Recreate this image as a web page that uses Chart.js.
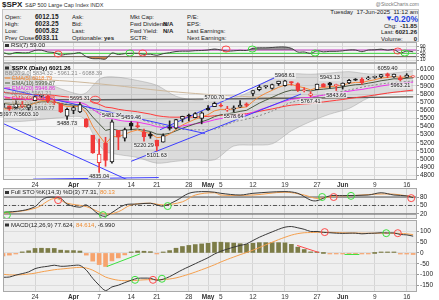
<!DOCTYPE html>
<html>
<head>
<meta charset="utf-8">
<title>$SPX</title>
<script src="https://cdn.jsdelivr.net/npm/chart.js@4.4.1/dist/chart.umd.min.js"></script>
<style>
  html, body { margin: 0; padding: 0; background: #fff; }
  body { width: 439px; height: 300px; position: relative; overflow: hidden;
         font-family: "Liberation Sans", Arial, sans-serif; color: #222; }
  .t { position: absolute; white-space: nowrap; line-height: 1; font-size: 6px; }
  .b { font-weight: bold; }
  .v { font-weight: bold; font-size: 6.5px; }
  #box { position: absolute; left: 2px; top: 9px; width: 417px; height: 33px;
         box-sizing: border-box; border: 1px solid #c4c4c4; background: #efefef; }
  canvas { position: absolute; left: 0; }
</style>
</head>
<body>
<div id="box"></div>
<div class="t b" style="left:2px;top:1px;font-size:8px">$SPX</div>
<div class="t" style="left:25px;top:2.5px;font-size:5.5px;color:#333">S&amp;P 500 Large Cap Index INDX</div>
<div class="t" style="right:20px;top:2px;font-size:5px;color:#777">@StockCharts.com</div>

<div class="t" style="left:5px;top:14px">Open:</div>
<div class="t" style="left:5px;top:21px">High:</div>
<div class="t" style="left:5px;top:28px">Low:</div>
<div class="t" style="left:5px;top:35px">Prev Close:</div>
<div class="t v" style="left:35px;top:13.7px">6012.15</div>
<div class="t v" style="left:35px;top:20.7px">6023.25</div>
<div class="t v" style="left:35px;top:27.7px">6005.82</div>
<div class="t v" style="left:35px;top:34.7px">6033.11</div>

<div class="t" style="left:72px;top:14px">Ask:</div>
<div class="t" style="left:72px;top:21px">Bid:</div>
<div class="t" style="left:72px;top:28px">Last:</div>
<div class="t" style="left:72px;top:35px">Optionable:</div>
<div class="t b" style="left:104px;top:35px">yes</div>

<div class="t" style="left:130px;top:14px">Mkt Cap:</div>
<div class="t" style="left:130px;top:21px">Fwd Dividend:</div>
<div class="t" style="left:130px;top:28px">Fwd Yield:</div>
<div class="t" style="left:130px;top:35px">SCTR:</div>
<div class="t b" style="left:163px;top:21px">N/A</div>
<div class="t b" style="left:163px;top:28px">N/A</div>

<div class="t" style="left:187px;top:14px">P/E:</div>
<div class="t" style="left:187px;top:21px">EPS:</div>
<div class="t" style="left:187px;top:28px">Last Earnings:</div>
<div class="t" style="left:187px;top:35px">Next Earnings:</div>

<div class="t" style="right:21px;top:9px">Tuesday&nbsp; 17-Jun-2025&nbsp; 11:12 am</div>
<div class="t b" style="left:385px;top:14.5px;font-size:8px;color:#1f3fe0">&#9660;</div>
<div class="t b" style="right:21px;top:14.5px;font-size:8.5px;color:#1f3fe0">-0.20%</div>
<div class="t" style="left:384px;top:22.5px">Chg:</div>
<div class="t b" style="right:22px;top:22.5px">-11.85</div>
<div class="t" style="left:381px;top:29px">Last:</div>
<div class="t b" style="right:22px;top:29px">6021.26</div>
<div class="t" style="left:381px;top:35.5px">Volume:</div>
<div class="t b" style="right:22px;top:35.5px">0</div>

<canvas id="rsiChart" width="439" height="21" style="top:42px"></canvas>
<canvas id="priceChart" width="439" height="125" style="top:63px"></canvas>
<canvas id="stoChart" width="439" height="31" style="top:188px"></canvas>
<canvas id="macdChart" width="439" height="80" style="top:220px"></canvas>

<script>
// ---- sessions: first bar is Mon 17-Mar-2025, Mon 24-Mar is day 0 ----
var FIRST = -5;
var X_MIN = -5, X_MAX = 59.6;

var tickDays   = [0, 6, 10, 15, 19, 24, 27, 29, 34, 39, 44, 48, 53, 58];
var tickLabels = ['24', 'Apr', '7', '14', '21', '28', 'May', '5', '12', '19', '27', 'Jun', '9', '16'];
var monthTicks = ['Apr', 'May', 'Jun'];

// ---- daily candles 17-Mar .. 17-Jun ----
var priorClose = 5638.94;
var opens = [5635.60, 5654.53, 5632.37, 5646.92, 5630.73,
             5718.08, 5775.96, 5771.66, 5695.64, 5679.12,
             5527.91, 5597.53, 5580.76, 5492.74, 5292.14,
             4953.79, 5193.57, 4965.28, 5353.15, 5255.56,
             5441.96, 5411.99, 5335.75, 5305.45,
             5232.94, 5207.67, 5395.92, 5381.38, 5489.73,
             5529.22, 5508.87, 5499.44, 5625.14, 5645.94,
             5655.32, 5605.88, 5613.40, 5640.00, 5679.92,
             5807.00, 5854.26, 5891.00, 5869.00, 5929.10,
             5902.88, 5944.66, 5928.37, 5841.26, 5781.89,
             5854.07, 5925.54, 5939.10, 5903.67,
             5896.68, 5938.56, 5978.94, 5985.67, 5987.06,
             6004.60, 6009.91, 6049.38, 6009.90, 6000.56,
             6004.00, 6012.15];
var highs = [5703.52, 5654.53, 5715.33, 5711.15, 5670.84,
             5775.14, 5786.95, 5783.62, 5732.28, 5685.89,
             5627.56, 5650.57, 5695.31, 5499.53, 5292.14,
             5246.43, 5267.47, 5481.34, 5353.15, 5381.46,
             5459.46, 5450.41, 5367.24, 5328.31,
             5232.94, 5309.60, 5469.69, 5489.40, 5528.11,
             5553.66, 5571.95, 5581.84, 5658.91, 5700.70,
             5683.33, 5649.42, 5654.60, 5720.10, 5691.68,
             5844.19, 5906.63, 5906.71, 5924.27, 5958.62,
             5968.61, 5953.06, 5938.37, 5878.08, 5829.51,
             5924.33, 5929.00, 5943.13, 5922.14,
             5937.40, 5981.36, 5990.48, 5999.70, 6016.87,
             6021.31, 6043.01, 6059.40, 6045.43, 6026.16,
             6050.83, 6023.25];
var lows = [5631.12, 5597.76, 5622.20, 5632.70, 5603.10,
            5718.08, 5760.00, 5694.41, 5670.94, 5572.42,
            5488.73, 5558.52, 5571.48, 5390.83, 5069.90,
            4835.04, 4910.42, 4948.43, 5115.27, 5220.77,
            5358.02, 5386.44, 5220.29, 5255.58,
            5101.63, 5207.67, 5356.18, 5371.96, 5455.86,
            5468.64, 5505.70, 5433.24, 5597.35, 5644.77,
            5640.72, 5586.67, 5578.64, 5635.00, 5644.00,
            5775.61, 5839.59, 5872.38, 5861.00, 5906.00,
            5895.69, 5909.26, 5830.91, 5825.82, 5767.41,
            5854.07, 5886.81, 5873.80, 5843.66,
            5861.43, 5929.00, 5966.11, 5921.20, 5978.63,
            5994.18, 6000.26, 6002.32, 6003.88, 5963.21,
            6004.00, 6005.82];
var closes = [5675.12, 5614.66, 5675.29, 5662.89, 5667.56,
              5767.57, 5776.65, 5712.20, 5693.31, 5580.94,
              5611.85, 5633.07, 5670.97, 5396.52, 5074.08,
              5062.25, 4982.77, 5456.90, 5268.05, 5363.36,
              5405.97, 5396.63, 5275.70, 5282.70,
              5158.20, 5287.76, 5375.86, 5484.77, 5525.21,
              5528.75, 5560.83, 5569.06, 5604.14, 5686.67,
              5650.38, 5606.91, 5631.28, 5663.94, 5659.91,
              5844.19, 5886.55, 5892.58, 5916.93, 5958.38,
              5963.60, 5940.46, 5844.61, 5842.01, 5802.82,
              5921.54, 5888.55, 5912.17, 5911.69,
              5935.94, 5970.37, 5970.81, 5939.30, 6000.36,
              6005.88, 6038.81, 6022.24, 6045.26, 5976.97,
              6033.11, 6021.26];

// ---- price overlays ----
var ema5 = [5618, 5617, 5636, 5645, 5653, 5691, 5720, 5717, 5709, 5666, 5648, 5643, 5652, 5567, 5403,
            5289, 5187, 5277, 5274, 5304, 5338, 5358, 5331, 5315, 5263, 5271, 5306, 5366, 5419, 5456,
            5491, 5517, 5546, 5593, 5612, 5610, 5617, 5633, 5642, 5709, 5768, 5810, 5846, 5883, 5910,
            5920, 5895, 5877, 5852, 5875, 5880, 5891, 5898, 5911, 5931, 5944, 5942, 5961, 5976, 5997,
            6005, 6018, 6004, 6014, 6016];
var ema10 = [5687, 5674, 5674, 5672, 5671, 5689, 5705, 5706, 5704, 5682, 5669, 5663, 5664, 5615, 5517,
             5434, 5352, 5371, 5352, 5354, 5363, 5369, 5352, 5339, 5306, 5303, 5316, 5347, 5379, 5406,
             5434, 5459, 5485, 5522, 5545, 5556, 5570, 5587, 5600, 5644, 5688, 5725, 5760, 5796, 5827,
             5848, 5847, 5846, 5838, 5853, 5860, 5869, 5877, 5888, 5903, 5915, 5919, 5934, 5947, 5964,
             5975, 5988, 5986, 5995, 6000];
var ema20 = [5770, 5755, 5747, 5739, 5732, 5735, 5739, 5736, 5732, 5718, 5708, 5701, 5698, 5669, 5612,
             5560, 5505, 5500, 5478, 5467, 5461, 5455, 5438, 5423, 5398, 5388, 5387, 5396, 5408, 5420,
             5433, 5446, 5461, 5483, 5499, 5509, 5521, 5535, 5547, 5575, 5605, 5632, 5659, 5687, 5713,
             5735, 5745, 5754, 5759, 5775, 5786, 5798, 5809, 5821, 5835, 5848, 5857, 5871, 5884, 5899,
             5911, 5924, 5929, 5939, 5947];
var ema40 = [5822, 5813, 5807, 5801, 5795, 5794, 5793, 5789, 5784, 5773, 5765, 5758, 5753, 5736, 5704,
             5673, 5639, 5630, 5612, 5600, 5591, 5581, 5567, 5553, 5534, 5523, 5516, 5515, 5516, 5516,
             5518, 5521, 5525, 5533, 5539, 5542, 5546, 5552, 5558, 5571, 5587, 5602, 5617, 5634, 5650,
             5663, 5670, 5677, 5682, 5694, 5703, 5713, 5723, 5733, 5745, 5756, 5765, 5776, 5788, 5800,
             5811, 5822, 5830, 5840, 5849];

var bbDays  = [-5, -2, 1, 4, 7, 8, 9, 10, 11, 13, 16, 19, 22, 25, 28, 31, 34, 37, 40, 43, 46, 49, 52, 55, 59];
var bbUpper = [6213, 6064, 5967, 5865, 5796, 5817, 5902, 5980, 6010, 6007, 5967, 5908, 5773, 5728, 5745,
               5752, 5848, 5995, 6048, 6044, 6059, 6076, 6048, 6053, 6088];
var bbMid   = [5836, 5764, 5727, 5688, 5660, 5643, 5608, 5580, 5551, 5531, 5493, 5428, 5373, 5360, 5368,
               5456, 5510, 5591, 5698, 5753, 5806, 5850, 5900, 5934, 5961];
var bbLower = [5458, 5464, 5487, 5510, 5524, 5469, 5314, 5180, 5092, 5055, 5019, 4949, 4973, 4991, 4990,
               5160, 5172, 5187, 5347, 5462, 5553, 5623, 5752, 5815, 5834];

var ma100Days = [-5, 5, 12, 20, 30, 40, 50, 59];
var ma100     = [6000, 5960, 5910, 5840, 5780, 5750, 5755, 5771];
var ma200Days = [-5, 10, 25, 40, 59];
var ma200     = [5735, 5730, 5738, 5748, 5765];

// hand drawn trend lines: [day, price] end points
var trendLines = [
  [[-5, 5875], [26.5, 5314]],
  [[-5.5, 5456], [14.4, 4745]],
  [[-0.3, 4752], [19.3, 4772]],
  [[15, 4972], [41.5, 5800]],
  [[19.5, 5360], [38.5, 6040]]
];

// annotated highs / lows: [day, 'H' | 'L']
var priceNotes = [[-4, 'L'], [-1, 'L'], [5, 'L'], [7, 'H'], [10, 'L'], [12, 'H'], [15, 'H'], [17, 'L'],
                  [19, 'L'], [28, 'H'], [31, 'L'], [39, 'H'], [43, 'L'], [46, 'H'], [47, 'L'], [55, 'H'], [57, 'L']];
var priceRings = [[9.4, 5730, 'r']];

// ---- RSI(7) ----
var rsi7 = [55, 45, 55, 53, 54, 68, 69, 58, 55, 40, 45, 48, 54, 30, 18, 18, 16, 52, 43, 48, 50, 50, 44, 45,
            38, 48, 54, 61, 63, 63, 66, 67, 70, 76, 70, 63, 65, 68, 67, 80, 83, 83, 85, 88, 88, 80, 58, 58,
            50, 65, 59, 62, 62, 65, 70, 70, 60, 70, 71, 75, 69, 73, 52, 64, 59];
var rsiLevels = [30, 50, 70];
var rsiRings = [[3.6, 46, 'r'], [14.8, 52, 'g'], [16.8, 52, 'r'], [29.8, 76, 'r'], [33.9, 76, 'g'],
                [43.7, 52, 'g'], [56.6, 64, 'r'], [57.7, 52, 'g']];

// ---- Full STO %K(14,3) %D(3) ----
var stoKDays = [-5, -2, 0, 1, 2, 4, 5, 7, 8, 10, 11, 12, 14, 16, 18, 19, 20, 22, 24, 26, 28, 29, 32, 34,
                39, 41, 43, 44, 46, 48, 52, 54, 56, 58, 59];
var stoK = [26, 32, 46, 68, 79, 75, 55, 44, 52, 18, 12, 25, 52, 55, 58, 52, 48, 67, 93, 99, 97, 93, 87, 93,
            99, 93, 69, 67, 84, 85, 87, 95, 87, 84, 77.31];
var stoDDays = [-5, 0, 3, 5, 8, 11, 13, 15, 18, 20, 23, 25, 28, 29, 34, 39, 42, 44, 47, 49, 53, 56, 58, 59];
var stoD = [22, 40, 75, 58, 46, 20, 28, 52, 58, 52, 63, 87, 95, 87, 87, 97, 87, 75, 84, 84, 90, 90, 84, 80.13];
var stoLevels = [20, 50, 80];
var stoRings = [[-4.4, 16, 'g'], [3.6, 69, 'r'], [10.6, 16, 'g'], [20.7, 48, 'g'], [44.8, 80, 'g'],
                [46.6, 80, 'r'], [49.3, 84, 'g'], [58.7, 76, 'r']];

// ---- MACD(12,26,9) ----
var macd = [-113, -112, -103, -96, -88, -73, -66, -62, -57, -62, -61, -58, -58, -80, -118, -150, -175, -158,
            -150, -138, -127, -118, -117, -118, -127, -122, -110, -94, -78, -64, -50, -36, -22, -5, 8, 18,
            27, 35, 42, 58, 73, 86, 98, 110, 120, 123, 117, 110, 100, 100, 96, 94, 92, 91, 92, 92, 89, 91,
            92, 94, 93, 93, 86, 84, 78];
var signal = [-99, -102, -102, -101, -98, -94, -88, -83, -78, -75, -72, -69, -67, -70, -80, -96, -112, -121,
              -127, -129, -129, -127, -125, -124, -124, -124, -121, -116, -108, -99, -89, -78, -67, -55, -42,
              -30, -19, -8, 2, 13, 25, 38, 50, 62, 73, 83, 90, 94, 95, 96, 96, 96, 95, 94, 93, 93, 92, 92, 92,
              92, 92, 92, 91, 89, 85];
var hist = [-14, -10, -1, 5, 10, 21, 22, 21, 21, 13, 11, 11, 9, -10, -38, -54, -63, -37, -23, -9, 2, 9, 8, 6,
            -3, 2, 11, 22, 30, 35, 39, 42, 45, 50, 50, 48, 46, 43, 40, 45, 48, 48, 48, 48, 47, 40, 27, 16, 5,
            4, 0, -2, -3, -3, -1, -1, -3, -1, 0, 2, 1, 1, -5, -5, -7];
var macdRings = [[15.6, -125, 'g'], [18.4, -125, 'r'], [19.8, -120, 'g'], [45.2, 97, 'r'],
                 [54.8, 92, 'g'], [56.6, 92, 'r']];
var macdMarks = [[[11.2, -63], [16.4, -4], 'g'], [[40.9, 35], [44.3, 2], 'r'], [[48.3, -7], [50.6, -7], 'g']];

// ------------------------------------------------------------------
Chart.defaults.font.family = '"Liberation Sans", Arial, sans-serif';
var FONT = '"Liberation Sans", Arial, sans-serif';
var RING = { r: '#ff4a4a', g: '#3ee03e' };

function byDay(arr) { return arr.map(function (v, k) { return { x: k + FIRST, y: v }; }); }
function zip(days, vals) { return days.map(function (d, k) { return { x: d, y: vals[k] }; }); }
function seg(p) { return [{ x: p[0][0], y: p[0][1] }, { x: p[1][0], y: p[1][1] }]; }
function level(v) { return [{ x: X_MIN, y: v }, { x: X_MAX, y: v }]; }

function line(data, color, width, extra) {
  var ds = { type: 'line', data: data, borderColor: color, borderWidth: width || 1,
             pointRadius: 0, fill: false, tension: 0, order: 10 };
  for (var key in extra) ds[key] = extra[key];
  return ds;
}

var panelBg = {
  id: 'panelBg',
  beforeDraw: function (chart, args, opts) {
    var a = chart.chartArea, c = chart.ctx;
    c.save();
    c.fillStyle = opts.color || '#efefef';
    c.fillRect(a.left, a.top, a.right - a.left, a.bottom - a.top);
    c.restore();
  },
  afterDraw: function (chart) {
    var a = chart.chartArea, c = chart.ctx;
    c.save();
    c.strokeStyle = '#a9a9a9';
    c.lineWidth = 1;
    c.strokeRect(a.left + 0.5, a.top + 0.5, a.right - a.left - 1, a.bottom - a.top - 1);
    c.restore();
  }
};
Chart.register(panelBg);

function xAxis(showLabels) {
  return {
    type: 'linear', min: X_MIN, max: X_MAX, offset: false,
    afterBuildTicks: function (axis) { axis.ticks = tickDays.map(function (d) { return { value: d }; }); },
    afterFit: function (axis) { axis.height = showLabels ? 8 : 0; axis.paddingLeft = 0; axis.paddingRight = 0; },
    grid: { color: '#d5d5d5', drawTicks: false, offset: false },
    border: { display: false },
    ticks: {
      display: showLabels, autoSkip: false, maxRotation: 0, padding: 1, color: '#333',
      font: function (ctx) {
        var lab = ctx.tick ? tickLabels[tickDays.indexOf(ctx.tick.value)] : '';
        return { size: 6.5, weight: monthTicks.indexOf(lab) >= 0 ? 'bold' : 'normal' };
      },
      callback: function (v) { return tickLabels[tickDays.indexOf(v)]; }
    }
  };
}

function yAxis(min, max, ticks, size) {
  return {
    position: 'right', min: min, max: max,
    afterBuildTicks: function (axis) { axis.ticks = ticks.map(function (v) { return { value: v }; }); },
    afterFit: function (axis) { axis.width = 22; axis.paddingTop = 0; axis.paddingBottom = 0; },
    grid: { color: '#dcdcdc', drawTicks: true, tickLength: 2, tickColor: '#999' },
    border: { display: false },
    ticks: { autoSkip: false, padding: 1, color: '#222', font: { size: size },
             callback: function (v) { return String(v); } }
  };
}

function options(yMin, yMax, yTicks, ySize, showX, bg) {
  return {
    responsive: false, animation: false, devicePixelRatio: 1, events: [],
    layout: { padding: { left: 3, right: 0, top: 0, bottom: 0 } },
    plugins: { legend: { display: false }, tooltip: { enabled: false }, panelBg: { color: bg } },
    scales: { x: xAxis(showX), y: yAxis(yMin, yMax, yTicks, ySize) }
  };
}

function drawRings(chart, list, rx, ry) {
  var c = chart.ctx, xs = chart.scales.x, ys = chart.scales.y;
  c.lineWidth = 1;
  list.forEach(function (r) {
    c.strokeStyle = RING[r[2]];
    c.beginPath();
    c.ellipse(xs.getPixelForValue(r[0]), ys.getPixelForValue(r[1]), rx, ry, 0, 0, Math.PI * 2);
    c.stroke();
  });
}

function drawTitle(c, x, y, parts) {
  c.fillStyle = '#333';
  c.fillRect(x, y - 1.5, 4, 3);
  var px = x + 6;
  c.textBaseline = 'middle';
  c.textAlign = 'left';
  parts.forEach(function (p) {
    c.font = '6px ' + FONT;
    c.fillStyle = p[1];
    c.fillText(p[0], px, y);
    px += c.measureText(p[0]).width;
  });
}

// ---------------- price panel ----------------
var wickData = [], wickCol = [], bodyData = [], bodyFill = [], bodyLine = [];
closes.forEach(function (c, k) {
  var prev = k === 0 ? priorClose : closes[k - 1];
  var col = c >= prev ? '#1c1c1c' : '#f03a3a';
  var x = k + FIRST;
  wickData.push({ x: x, y: [lows[k], highs[k]] });
  wickCol.push(col);
  bodyData.push({ x: x, y: [opens[k], c] });
  bodyFill.push(c >= opens[k] ? '#ffffff' : col);
  bodyLine.push(col);
});

var priceDatasets = [
  line(zip(bbDays, bbUpper), 'rgba(150,150,150,0.7)', 0.6, { fill: '+1', backgroundColor: 'rgba(165,165,165,0.33)', tension: 0.3, order: 30 }),
  line(zip(bbDays, bbLower), 'rgba(150,150,150,0.7)', 0.6, { tension: 0.3, order: 30 }),
  line(zip(bbDays, bbMid), '#8c8c8c', 1, { borderDash: [2, 2], tension: 0.3, order: 25 }),
  line(zip(ma200Days, ma200), '#5e5e5e', 1.4, { tension: 0.3, order: 20 }),
  line(zip(ma100Days, ma100), '#cdb89c', 1, { tension: 0.3, order: 20 }),
  line(byDay(ema40), '#ff3b3b', 1, { order: 15 }),
  line(byDay(ema20), '#ee33ee', 1, { order: 14 }),
  line(byDay(ema10), '#4d5a42', 1, { order: 13 }),
  line(byDay(ema5), '#f5893a', 1, { order: 12 })
];
trendLines.forEach(function (t) { priceDatasets.push(line(seg(t), '#3d3dff', 1, { order: 8 })); });
priceDatasets.push({ type: 'bar', data: wickData, backgroundColor: wickCol, barThickness: 1,
                     grouped: false, order: 3 });
priceDatasets.push({ type: 'bar', data: bodyData, backgroundColor: bodyFill, borderColor: bodyLine,
                     borderWidth: 1, borderSkipped: false, barThickness: 4, minBarLength: 1,
                     grouped: false, order: 2 });

var legendRows = [
  ['$SPX (Daily) 6021.26', '#000', 'box'],
  ['BB(20,2.0) 5834.32 - 5961.21 - 6088.39', '#8a8a8a', ''],
  ['EMA(5) 6018.79', '#f5893a', 'dash'],
  ['EMA(10) 5999.87', '#4d5a42', 'dash'],
  ['EMA(20) 5946.86', '#e02ee0', 'dash'],
  ['MA(20) 5961.21', '#8c8c8c', 'dash'],
  ['EMA(40) 5848.88', '#ff3b3b', 'dash'],
  ['MA(100) 5771.00', '#b8a386', 'dash'],
  ['MA(200) 5810.77', '#555', 'dash']
];

var priceNotesPlugin = {
  id: 'priceNotes',
  afterDatasetsDraw: function (chart) {
    var c = chart.ctx, a = chart.chartArea, xs = chart.scales.x, ys = chart.scales.y;
    c.save();
    c.font = '5.5px ' + FONT;
    c.textAlign = 'center';
    c.textBaseline = 'middle';
    priceNotes.forEach(function (n) {
      var k = n[0] - FIRST;
      var p = n[1] === 'H' ? highs[k] : lows[k];
      var s = p.toFixed(2);
      var x = xs.getPixelForValue(n[0]);
      var y = ys.getPixelForValue(p) + (n[1] === 'H' ? -4.5 : 4.5);
      var w = c.measureText(s).width + 2;
      c.fillStyle = 'rgba(236,236,236,0.85)';
      c.fillRect(x - w / 2, y - 3, w, 6);
      c.fillStyle = '#222';
      c.fillText(s, x, y);
    });
    drawRings(chart, priceRings, 5, 3.5);

    c.textAlign = 'left';
    legendRows.forEach(function (r, i) {
      var y = a.top + 5 + i * 5;
      var x = a.left + 2;
      if (r[2] === 'box') {
        c.fillStyle = '#333';
        c.fillRect(x, y - 1.5, 4, 3);
      } else if (r[2] === 'dash') {
        c.strokeStyle = r[1];
        c.lineWidth = 1;
        c.beginPath(); c.moveTo(x, y); c.lineTo(x + 5, y); c.stroke();
      }
      c.font = (r[2] === 'box' ? 'bold 6px ' : '5.5px ') + FONT;
      c.fillStyle = r[1];
      c.fillText(r[0], r[2] ? x + 7 : x, y);
    });
    c.restore();
  }
};

var mainTicks = [];
for (var p = 4800; p <= 6100; p += 100) mainTicks.push(p);

new Chart(document.getElementById('priceChart'), {
  type: 'line',
  data: { datasets: priceDatasets },
  options: options(4741.6, 6182.5, mainTicks, 6.5, true, '#f6f6f6'),
  plugins: [priceNotesPlugin]
});

// ---------------- RSI panel ----------------
var rsiColors = { 30: '#5a5a5a', 50: '#3fd83f', 70: '#c040c0' };
var rsiDatasets = rsiLevels.map(function (v) { return line(level(v), rsiColors[v], 1, { order: 20 }); });
rsiDatasets.push(line(byDay(rsi7), '#404040', 1, {
  fill: { target: { value: 70 }, above: 'rgba(85,85,85,0.6)', below: 'rgba(0,0,0,0)' }, tension: 0.3, order: 5 }));
rsiDatasets.push(line(byDay(rsi7), 'rgba(0,0,0,0)', 0, {
  fill: { target: { value: 30 }, above: 'rgba(0,0,0,0)', below: 'rgba(205,115,50,0.85)' }, tension: 0.3, order: 6 }));

new Chart(document.getElementById('rsiChart'), {
  type: 'line',
  data: { datasets: rsiDatasets },
  options: options(-8, 118, [10, 30, 50, 70, 90], 5, false, '#f4f4f4'),
  plugins: [{
    id: 'rsiNotes',
    afterDatasetsDraw: function (chart) {
      var c = chart.ctx;
      c.save();
      drawRings(chart, rsiRings, 4, 3);
      drawTitle(c, chart.chartArea.left + 2, 3.5, [['RSI(7) 59.00', '#222']]);
      c.restore();
    }
  }]
});

// ---------------- Full STO panel ----------------
var stoDatasets = stoLevels.map(function (v) {
  return line(level(v), '#555', 1, v === 50 ? { borderDash: [4, 2, 1, 2], order: 20 } : { order: 20 });
});
stoDatasets.push(line(zip(stoDDays, stoD), '#f5a04e', 1, { tension: 0.35, order: 6 }));
stoDatasets.push(line(zip(stoKDays, stoK), '#3a3a3a', 1, { tension: 0.35, order: 5 }));

new Chart(document.getElementById('stoChart'), {
  type: 'line',
  data: { datasets: stoDatasets },
  options: options(2.3, 111.8, [20, 50, 80], 6.5, false, '#efefef'),
  plugins: [{
    id: 'stoNotes',
    afterDatasetsDraw: function (chart) {
      var c = chart.ctx;
      c.save();
      drawRings(chart, stoRings, 3.5, 3.5);
      drawTitle(c, chart.chartArea.left + 2, 4.5,
        [['Full STO %K(14,3) %D(3) 77.31, ', '#222'], ['80.13', '#f08c30']]);
      c.restore();
    }
  }]
});

// ---------------- MACD panel ----------------
var histFill = hist.map(function (v) { return v >= 0 ? '#7c7c47' : '#f6a36d'; });
var macdDatasets = [
  { type: 'bar', data: byDay(hist), backgroundColor: histFill, barThickness: 4, minBarLength: 1,
    grouped: false, order: 20 },
  line(byDay(signal), '#f5a04e', 1, { tension: 0.3, order: 6 }),
  line(byDay(macd), '#3a3a3a', 1, { tension: 0.3, order: 5 })
];
macdMarks.forEach(function (m) {
  macdDatasets.push(line(seg(m), RING[m[2]], 1, { order: 4 }));
});

new Chart(document.getElementById('macdChart'), {
  type: 'line',
  data: { datasets: macdDatasets },
  options: options(-181.6, 153.3, [-150, -100, -50, 0, 50, 100], 6.5, true, '#efefef'),
  plugins: [{
    id: 'macdNotes',
    afterDatasetsDraw: function (chart) {
      var c = chart.ctx;
      c.save();
      drawRings(chart, macdRings, 3.5, 3.5);
      drawTitle(c, chart.chartArea.left + 2, 5,
        [['MACD(12,26,9) 77.624, ', '#222'], ['84.614', '#f08c30'], [', -6.990', '#222']]);
      c.restore();
    }
  }]
});
</script>
</body>
</html>
